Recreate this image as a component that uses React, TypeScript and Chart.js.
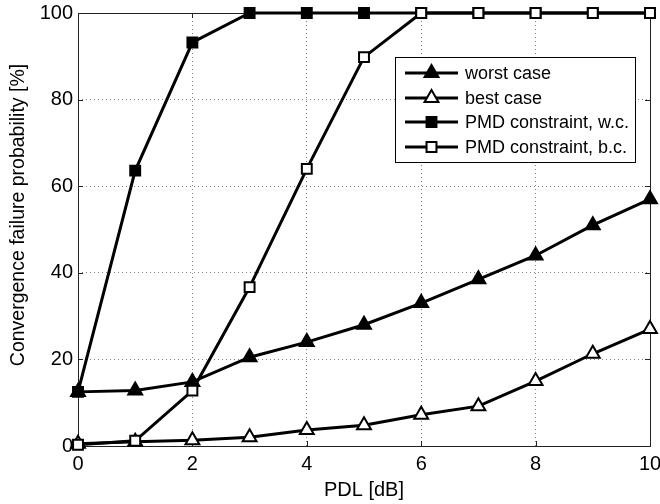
import React, { useEffect, useRef } from "react";
import { Chart, registerables } from "chart.js";

Chart.register(...registerables);

const pdl = [0, 1, 2, 3, 4, 5, 6, 7, 8, 9, 10];
const worstCase = [12.5, 12.8, 14.8, 20.5, 24, 28, 33, 38.5, 44, 51, 57];
const bestCase = [0.5, 1, 1.3, 2, 3.7, 4.8, 7.2, 9.2, 15, 21.3, 27];
const pmdWorst = [12.5, 63.6, 93.2, 100, 100, 100, 100, 100, 100, 100, 100];
const pmdBest = [0.3, 1.2, 12.8, 36.7, 64, 89.8, 100, 100, 100, 100, 100];
const seriesLabels = ["worst case", "best case", "PMD constraint, w.c.", "PMD constraint, b.c."];
const xTicks = [0, 2, 4, 6, 8, 10];
const yTicks = [0, 20, 40, 60, 80, 100];
const yTitle = "Convergence failure probability [%]";

const FONT = "'Liberation Sans', Arial, Helvetica, sans-serif";

const framePlugin = {
  id: "frame",
  beforeDatasetsDraw(chart: any) {
    const { ctx, chartArea: a, scales } = chart;
    ctx.save();
    ctx.strokeStyle = "#222";
    ctx.lineWidth = 1;
    ctx.strokeRect(Math.round(a.left) + 0.5, Math.round(a.top) + 0.5, Math.round(a.right - a.left), Math.round(a.bottom - a.top));
    const tl = 5;
    ctx.beginPath();
    xTicks.forEach((v) => {
      const x = Math.round(scales.x.getPixelForValue(v)) + 0.5;
      ctx.moveTo(x, a.bottom);
      ctx.lineTo(x, a.bottom - tl);
      ctx.moveTo(x, a.top);
      ctx.lineTo(x, a.top + tl);
    });
    yTicks.forEach((v) => {
      const y = Math.round(scales.y.getPixelForValue(v)) + 0.5;
      ctx.moveTo(a.left, y);
      ctx.lineTo(a.left + tl, y);
      ctx.moveTo(a.right, y);
      ctx.lineTo(a.right - tl, y);
    });
    ctx.stroke();
    ctx.restore();
  },
  afterDraw(chart: any) {
    const { ctx } = chart;
    ctx.save();
    ctx.translate(19, 215);
    ctx.rotate(-Math.PI / 2);
    ctx.fillStyle = "#000";
    ctx.font = `19.5px ${FONT}`;
    ctx.textAlign = "center";
    ctx.textBaseline = "middle";
    ctx.fillText(yTitle, 0, 0);
    ctx.restore();
  },
};

const legendPlugin = {
  id: "customLegend",
  afterDraw(chart: any) {
    const { ctx } = chart;
    const bx = 395, by = 57, bw = 240, bh = 105;
    ctx.save();
    ctx.fillStyle = "#fff";
    ctx.fillRect(bx, by, bw, bh);
    ctx.strokeStyle = "#000";
    ctx.lineWidth = 1;
    ctx.strokeRect(bx + 0.5, by + 0.5, bw, bh);
    const rows = [73, 98, 122, 147];
    chart.data.datasets.forEach((ds: any, i: number) => {
      const y = rows[i];
      ctx.strokeStyle = "#000";
      ctx.lineWidth = 3;
      ctx.beginPath();
      ctx.moveTo(405, y);
      ctx.lineTo(458, y);
      ctx.stroke();
      ctx.fillStyle = ds.pointBackgroundColor;
      ctx.strokeStyle = ds.pointBorderColor;
      ctx.lineWidth = ds.pointBorderWidth;
      const cx = 431.5;
      ctx.beginPath();
      if (ds.pointStyle === "triangle") {
        const r = ds.pointRadius;
        ctx.moveTo(cx, y - r);
        ctx.lineTo(cx + r * Math.cos(Math.PI / 6), y + r * 0.5);
        ctx.lineTo(cx - r * Math.cos(Math.PI / 6), y + r * 0.5);
        ctx.closePath();
      } else {
        const s = ds.pointRadius * Math.SQRT1_2;
        ctx.rect(cx - s, y - s, 2 * s, 2 * s);
      }
      ctx.fill();
      ctx.stroke();
      ctx.fillStyle = "#000";
      ctx.font = `18px ${FONT}`;
      ctx.textBaseline = "middle";
      ctx.textAlign = "left";
      ctx.fillText(ds.label, 465, y + 1);
    });
    ctx.restore();
  },
};

export default function App() {
  const ref = useRef<HTMLCanvasElement>(null);
  useEffect(() => {
    if (!ref.current) return;
    const mk = (label: string, data: number[], style: string, filled: boolean, order: number) => ({
      label,
      data: pdl.map((x, i) => ({ x, y: data[i] })),
      borderColor: "#000",
      borderWidth: 3,
      pointStyle: style,
      pointRadius: style === "triangle" ? 8 : 7,
      pointHoverRadius: style === "triangle" ? 8 : 7,
      pointBackgroundColor: filled ? "#000" : "#fff",
      pointBorderColor: "#000",
      pointBorderWidth: 2,
      tension: 0,
      clip: false,
      order,
    });
    const chart = new Chart(ref.current, {
      type: "line",
      data: {
        datasets: [
          mk(seriesLabels[0], worstCase, "triangle", true, 3),
          mk(seriesLabels[1], bestCase, "triangle", false, 2),
          mk(seriesLabels[2], pmdWorst, "rect", true, 1),
          mk(seriesLabels[3], pmdBest, "rect", false, 0),
        ] as any,
      },
      options: {
        animation: false,
        responsive: true,
        maintainAspectRatio: false,
        layout: { padding: { top: 13, right: 10, left: 0, bottom: 0 } },
        plugins: { legend: { display: false }, tooltip: { enabled: false } },
        scales: {
          x: {
            type: "linear",
            min: 0,
            max: 10,
            afterBuildTicks: (s: any) => {
              s.ticks = xTicks.map((v) => ({ value: v }));
            },
            afterFit: (s: any) => {
              s.height = 58;
              s.paddingLeft = 0;
              s.paddingRight = 0;
            },
            ticks: { color: "#000", font: { size: 20, family: FONT }, padding: 6 },
            grid: { color: "rgba(0,0,0,0.5)", lineWidth: 1, drawTicks: false },
            border: { display: false, dash: [1, 3] },
            title: { display: true, text: "PDL [dB]", color: "#000", font: { size: 20, family: FONT }, padding: { top: 0, bottom: 2 } },
          },
          y: {
            type: "linear",
            min: 0,
            max: 100,
            afterBuildTicks: (s: any) => {
              s.ticks = yTicks.map((v) => ({ value: v }));
            },
            afterFit: (s: any) => {
              s.width = 78;
              s.paddingTop = 0;
              s.paddingBottom = 0;
            },
            ticks: { color: "#000", font: { size: 20, family: FONT }, padding: 5 },
            grid: { color: "rgba(0,0,0,0.5)", lineWidth: 1, drawTicks: false },
            border: { display: false, dash: [1, 3] },
            title: { display: false },
          },
        },
      },
      plugins: [framePlugin, legendPlugin],
    });
    return () => chart.destroy();
  }, []);
  return (
    <div style={{ position: "absolute", left: 0, top: 0, width: 660, height: 504, background: "#fff" }}>
      <canvas ref={ref} />
    </div>
  );
}
